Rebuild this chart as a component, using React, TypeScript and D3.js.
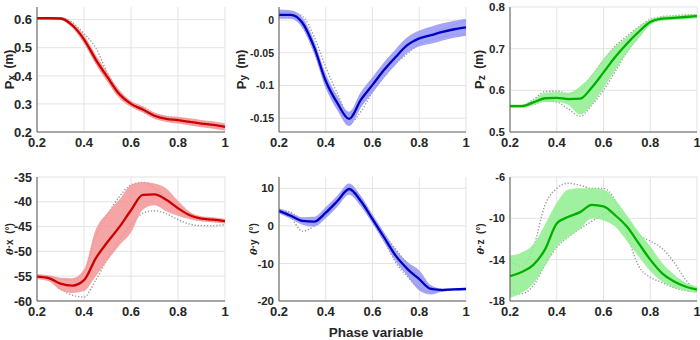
import React from 'react';
import * as d3 from 'd3';

const phase = [0.2, 0.25, 0.3, 0.35, 0.4, 0.45, 0.5, 0.55, 0.6, 0.65, 0.7, 0.75, 0.8, 0.85, 0.9, 0.95, 1.0];
const xTicks = [0.2, 0.4, 0.6, 0.8, 1];

// Px (m)
const pxMean = [0.605, 0.605, 0.604, 0.58, 0.53, 0.458, 0.395, 0.335, 0.3, 0.28, 0.258, 0.247, 0.242, 0.236, 0.23, 0.225, 0.218];
const pxHi = [0.609, 0.609, 0.609, 0.589, 0.545, 0.475, 0.412, 0.35, 0.311, 0.291, 0.269, 0.258, 0.254, 0.249, 0.243, 0.238, 0.231];
const pxLo = [0.601, 0.601, 0.599, 0.571, 0.515, 0.441, 0.378, 0.32, 0.289, 0.269, 0.247, 0.236, 0.23, 0.223, 0.217, 0.212, 0.205];
const pxTrialA = [0.606, 0.606, 0.607, 0.59, 0.55, 0.5, 0.41, 0.342, 0.305, 0.29, 0.266, 0.255, 0.25, 0.243, 0.237, 0.23, 0.225];
const pxTrialB = [0.603, 0.603, 0.602, 0.575, 0.52, 0.447, 0.383, 0.326, 0.294, 0.272, 0.25, 0.24, 0.235, 0.228, 0.222, 0.216, 0.21];
const pxTicks = [0.2, 0.3, 0.4, 0.5, 0.6];

// Py (m)
const pyMean = [0.008, 0.008, -0.004, -0.041, -0.093, -0.127, -0.151, -0.122, -0.099, -0.076, -0.056, -0.038, -0.028, -0.023, -0.018, -0.014, -0.011];
const pyHi = [0.016, 0.015, 0.004, -0.031, -0.082, -0.116, -0.14, -0.11, -0.087, -0.064, -0.044, -0.026, -0.016, -0.01, -0.005, -0.001, 0.002];
const pyLo = [0.002, 0.002, -0.012, -0.051, -0.104, -0.138, -0.162, -0.134, -0.111, -0.088, -0.068, -0.05, -0.04, -0.036, -0.031, -0.027, -0.024];
const pyTrialA = [0.012, 0.012, 0.006, -0.025, -0.072, -0.112, -0.145, -0.13, -0.104, -0.08, -0.058, -0.04, -0.03, -0.022, -0.014, -0.007, -0.001];
const pyTrialB = [0.004, 0.004, -0.01, -0.048, -0.1, -0.133, -0.158, -0.14, -0.11, -0.086, -0.066, -0.051, -0.036, -0.03, -0.026, -0.022, -0.022];
const pyTicks = [-0.15, -0.1, -0.05, 0];

// Pz (m)
const pzMean = [0.562, 0.562, 0.571, 0.581, 0.582, 0.579, 0.58, 0.607, 0.643, 0.68, 0.712, 0.74, 0.764, 0.772, 0.774, 0.776, 0.778];
const pzHi = [0.566, 0.566, 0.577, 0.594, 0.596, 0.594, 0.61, 0.637, 0.675, 0.705, 0.728, 0.752, 0.77, 0.777, 0.779, 0.781, 0.783];
const pzLo = [0.558, 0.558, 0.565, 0.572, 0.572, 0.565, 0.542, 0.566, 0.605, 0.648, 0.69, 0.725, 0.757, 0.767, 0.769, 0.771, 0.773];
const pzTrialA = [0.561, 0.561, 0.566, 0.575, 0.572, 0.555, 0.538, 0.565, 0.6, 0.645, 0.692, 0.728, 0.76, 0.77, 0.772, 0.774, 0.776];
const pzTrialB = [0.563, 0.563, 0.578, 0.597, 0.598, 0.592, 0.6, 0.635, 0.672, 0.706, 0.73, 0.752, 0.77, 0.777, 0.779, 0.781, 0.782];
const pzTicks = [0.5, 0.6, 0.7, 0.8];

// theta-x (deg)
const txMean = [-55.1, -55.4, -56.5, -56.9, -55.8, -51.4, -48.1, -45.1, -41.7, -38.6, -38.5, -39.6, -41.3, -42.7, -43.4, -43.6, -43.9];
const txHi = [-54.6, -54.8, -55.3, -55.4, -53.6, -45.6, -42.2, -39.6, -36.6, -36.0, -36.3, -37.3, -39.8, -42.0, -42.9, -43.1, -43.4];
const txLo = [-55.6, -56.0, -57.8, -58.4, -58.0, -55.0, -51.8, -48.8, -46.2, -41.6, -40.7, -41.9, -42.8, -43.5, -43.9, -44.1, -44.4];
const txTrialA = [-55.0, -55.2, -55.6, -55.8, -54.3, -47.0, -42.6, -39.0, -36.6, -36.1, -37.2, -39.3, -41.6, -43.2, -43.8, -44.0, -44.1];
const txTrialB = [-55.2, -55.6, -57.6, -58.8, -59.2, -55.8, -51.5, -47.8, -44.6, -42.3, -41.8, -42.4, -43.6, -44.5, -44.8, -44.8, -44.6];
const txTicks = [-60, -55, -50, -45, -40, -35];

// theta-y (deg)
const tyMean = [4.0, 2.7, 1.3, 1.1, 3.5, 6.6, 9.8, 6.6, 1.8, -3.1, -8.0, -11.5, -14.2, -16.8, -17.1, -16.9, -16.8];
const tyHi = [4.7, 3.5, 2.3, 2.4, 5.0, 8.1, 11.3, 8.0, 3.0, -1.8, -6.5, -9.6, -11.8, -15.8, -16.7, -16.6, -16.5];
const tyLo = [3.3, 1.9, 0.3, -0.2, 2.0, 5.1, 8.3, 5.2, 0.6, -4.4, -9.5, -13.4, -17.2, -18.3, -17.5, -17.2, -17.1];
const tyTrialA = [4.3, 3.6, 1.6, 0.7, 2.8, 6.2, 10.4, 7.4, 2.6, -2.2, -6.2, -10.2, -13.2, -16.3, -16.9, -16.8, -16.7];
const tyTrialB = [3.8, 2.3, -1.4, 0.0, 3.9, 7.0, 9.3, 5.9, 1.0, -4.0, -9.8, -13.6, -16.5, -17.6, -17.3, -17.0, -16.9];
const tyTicks = [-20, -10, 0, 10];

// theta-z (deg)
const tzMean = [-15.6, -15.2, -14.5, -13.0, -10.5, -9.85, -9.4, -8.7, -8.85, -9.7, -10.8, -12.4, -14.0, -15.3, -16.1, -16.6, -16.9];
const tzHi = [-13.6, -13.3, -12.5, -10.6, -8.5, -7.2, -7.1, -7.1, -7.2, -8.2, -9.7, -11.3, -12.7, -14.3, -15.4, -16.2, -16.6];
const tzLo = [-17.7, -17.2, -16.3, -14.6, -12.7, -11.8, -11.0, -10.0, -10.2, -10.8, -12.2, -13.7, -15.1, -16.1, -16.7, -17.0, -17.2];
const tzTrialA = [-14.2, -14.6, -12.8, -8.7, -7.1, -6.6, -6.8, -7.1, -7.1, -8.3, -11.5, -14.6, -15.7, -16.2, -16.7, -17.0, -17.1];
const tzTrialB = [-17.0, -17.3, -16.5, -14.5, -12.8, -11.8, -11.0, -10.3, -9.6, -9.4, -10.2, -11.6, -12.2, -12.9, -14.2, -15.9, -17.0];
const tzTicks = [-18, -14, -10, -6];

const RED = { line: '#cc0000', band: '#f39595' };
const BLUE = { line: '#0000c4', band: '#9595f3' };
const GREEN = { line: '#00b000', band: '#8eee8e' };

const cols: [number, number][] = [[37, 225], [279, 466], [510, 697]];
const rows: [number, number][] = [[7, 132], [177, 301]];

type Panel = {
  col: number; row: number; domain: [number, number]; ticks: number[];
  mean: number[]; hi: number[]; lo: number[]; trials: number[][];
  color: { line: string; band: string };
  label: 'P' | 'T'; sub: string; labelX: number; tickFont: number;
};

const panels: Panel[] = [
  { col: 0, row: 0, domain: [0.2, 0.645], ticks: pxTicks, mean: pxMean, hi: pxHi, lo: pxLo, trials: [pxTrialA, pxTrialB], color: RED, label: 'P', sub: 'x', labelX: 9, tickFont: 13 },
  { col: 1, row: 0, domain: [-0.171, 0.02], ticks: pyTicks, mean: pyMean, hi: pyHi, lo: pyLo, trials: [pyTrialA, pyTrialB], color: BLUE, label: 'P', sub: 'y', labelX: 241, tickFont: 10.5 },
  { col: 2, row: 0, domain: [0.5, 0.8], ticks: pzTicks, mean: pzMean, hi: pzHi, lo: pzLo, trials: [pzTrialA, pzTrialB], color: GREEN, label: 'P', sub: 'z', labelX: 479, tickFont: 11.5 },
  { col: 0, row: 1, domain: [-60, -35], ticks: txTicks, mean: txMean, hi: txHi, lo: txLo, trials: [txTrialA, txTrialB], color: RED, label: 'T', sub: 'x', labelX: 9, tickFont: 12.5 },
  { col: 1, row: 1, domain: [-20, 13], ticks: tyTicks, mean: tyMean, hi: tyHi, lo: tyLo, trials: [tyTrialA, tyTrialB], color: BLUE, label: 'T', sub: 'y', labelX: 253, tickFont: 11.5 },
  { col: 2, row: 1, domain: [-18, -6], ticks: tzTicks, mean: tzMean, hi: tzHi, lo: tzLo, trials: [tzTrialA, tzTrialB], color: GREEN, label: 'T', sub: 'z', labelX: 480, tickFont: 11 },
];

const FONT = '"Liberation Sans", Arial, Helvetica, sans-serif';
const TXT = '#262626';

function PanelView({ p }: { p: Panel }) {
  const [x0, x1] = cols[p.col];
  const [y0, y1] = rows[p.row];
  const x = d3.scaleLinear().domain([0.2, 1]).range([x0, x1]);
  const y = d3.scaleLinear().domain(p.domain).range([y1, y0]);
  const idx = phase.map((_, i) => i);
  const area = d3.area<number>().x(i => x(phase[i])).y0(i => y(p.lo[i])).y1(i => y(p.hi[i])).curve(d3.curveMonotoneX);
  const line = (arr: number[]) => d3.line<number>().x(i => x(phase[i])).y(i => y(arr[i])).curve(d3.curveMonotoneX)(idx) || '';
  const cy = (y0 + y1) / 2;
  return (
    <g>
      {xTicks.map(t => (
        <line key={'gx' + t} x1={x(t)} x2={x(t)} y1={y0} y2={y1} stroke="#e3e3e3" strokeWidth={1} />
      ))}
      {p.ticks.map(t => (
        <line key={'gy' + t} x1={x0} x2={x1} y1={y(t)} y2={y(t)} stroke="#e3e3e3" strokeWidth={1} />
      ))}
      {p.trials.map((tr, k) => (
        <path key={'tr' + k} d={line(tr)} fill="none" stroke="#9a9a9a" strokeWidth={1.4} strokeDasharray="1.3 1.8" />
      ))}
      <path d={area(idx) || ''} fill={p.color.band} fillOpacity={0.85} stroke="none" />
      <path d={line(p.mean)} fill="none" stroke={p.color.line} strokeWidth={2.3} />
      <line x1={x0} x2={x0} y1={y0} y2={y1} stroke="#5a5a5a" strokeWidth={1} />
      <line x1={x0} x2={x1} y1={y1} y2={y1} stroke="#5a5a5a" strokeWidth={1} />
      {p.ticks.map(t => (
        <text key={'ty' + t} x={x0 - 5} y={y(t)} dy="0.36em" textAnchor="end" fontSize={p.tickFont} fontWeight="bold" fill={TXT} fontFamily={FONT}>{String(t)}</text>
      ))}
      {xTicks.map(t => (
        <text key={'tx' + t} x={x(t)} y={y1 + 15} textAnchor="middle" fontSize={13} fontWeight="bold" fill={TXT} fontFamily={FONT}>{String(t)}</text>
      ))}
      {p.label === 'P' ? (
        <text transform={`translate(${p.labelX},${cy}) rotate(-90)`} textAnchor="middle" dominantBaseline="central" fontSize={13} fontWeight="bold" fill={TXT} fontFamily={FONT}>
          <tspan>P</tspan><tspan fontSize={10} dy={2}>{p.sub}</tspan><tspan dy={-2} fontSize={12}>{'\u00A0\u00A0(m)'}</tspan>
        </text>
      ) : (
        <text transform={`translate(${p.labelX},${cy}) rotate(-90)`} textAnchor="middle" dominantBaseline="central" fontSize={10} fontWeight="bold" fill={TXT} fontFamily={FONT}>
          <tspan fontStyle="italic" fontFamily='"DejaVu Serif", serif'>{'\u03B8'}</tspan><tspan>{'\u00B7' + p.sub}</tspan><tspan>{'\u00A0\u00A0(\u00B0)'}</tspan>
        </text>
      )}
    </g>
  );
}

export default function App() {
  return (
    <svg width={700} height={340} style={{ position: 'absolute', left: 0, top: 0, background: '#fff' }}>
      <rect x={0} y={0} width={700} height={340} fill="#fff" />
      {panels.map((p, i) => <PanelView key={i} p={p} />)}
      <text x={376} y={337} textAnchor="middle" fontSize={13.5} fontWeight="bold" fill={TXT} fontFamily={FONT}>Phase variable</text>
    </svg>
  );
}
